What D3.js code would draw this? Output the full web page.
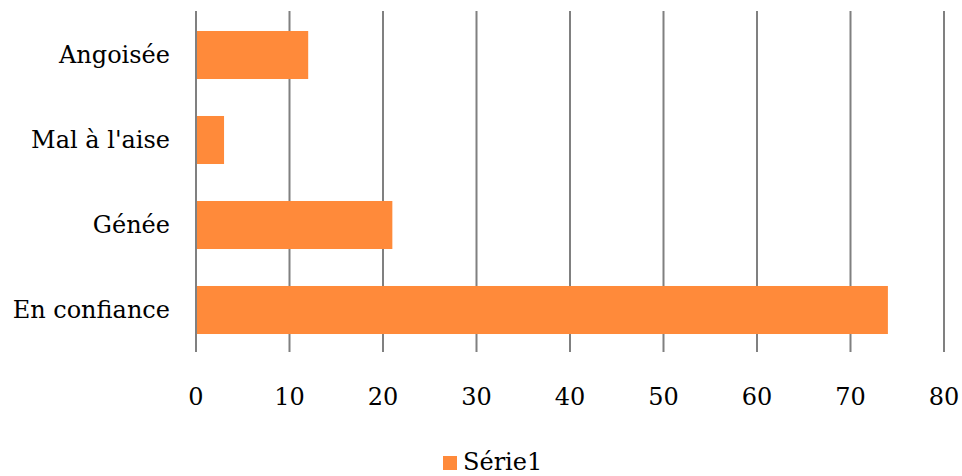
<!DOCTYPE html>
<html><head><meta charset="utf-8">
<script src="https://cdn.jsdelivr.net/npm/d3@7"></script>
<style>body{margin:0;background:#fff}svg{display:block}text{font-family:"DejaVu Serif",serif;fill:#000}</style>
</head><body><svg id="c" width="962" height="476"></svg>
<script>
const categories = ["Angoisée", "Mal à l'aise", "Génée", "En confiance"];
const values = [12, 3, 21, 74];
const xTicks = [0, 10, 20, 30, 40, 50, 60, 70, 80];
const seriesName = "Série1";

const svg = d3.select("#c");
const color = "#FF8A3A";
const x = d3.scaleLinear().domain([0, 80]).range([196, 944]);
const y = d3.scaleBand().domain(categories).range([12.5, 352.5]).paddingInner(0.435).paddingOuter(0.2175);

svg.append("g").selectAll("line").data(xTicks).join("line")
  .attr("x1", d => x(d)).attr("x2", d => x(d))
  .attr("y1", 11).attr("y2", 352)
  .attr("stroke", "#808080").attr("stroke-width", 2);

svg.append("g").selectAll("rect").data(categories).join("rect")
  .attr("x", x(0) + 1).attr("y", d => y(d))
  .attr("width", (d, i) => x(values[i]) - x(0) - 1)
  .attr("height", y.bandwidth())
  .attr("fill", color);

svg.append("g").selectAll("text").data(categories).join("text")
  .attr("x", 170).attr("y", d => y(d) + y.bandwidth() / 2)
  .attr("dy", "0.35em").attr("text-anchor", "end")
  .attr("font-size", 24).text(d => d);

svg.append("g").selectAll("text").data(xTicks).join("text")
  .attr("x", d => x(d)).attr("y", 405)
  .attr("text-anchor", "middle").attr("font-size", 24).text(d => d);

const lg = svg.append("g");
lg.append("rect").attr("x", 443).attr("y", 456).attr("width", 14).attr("height", 14).attr("fill", color);
lg.append("text").attr("x", 463).attr("y", 470).attr("font-size", 24).text(seriesName);
</script></body></html>
